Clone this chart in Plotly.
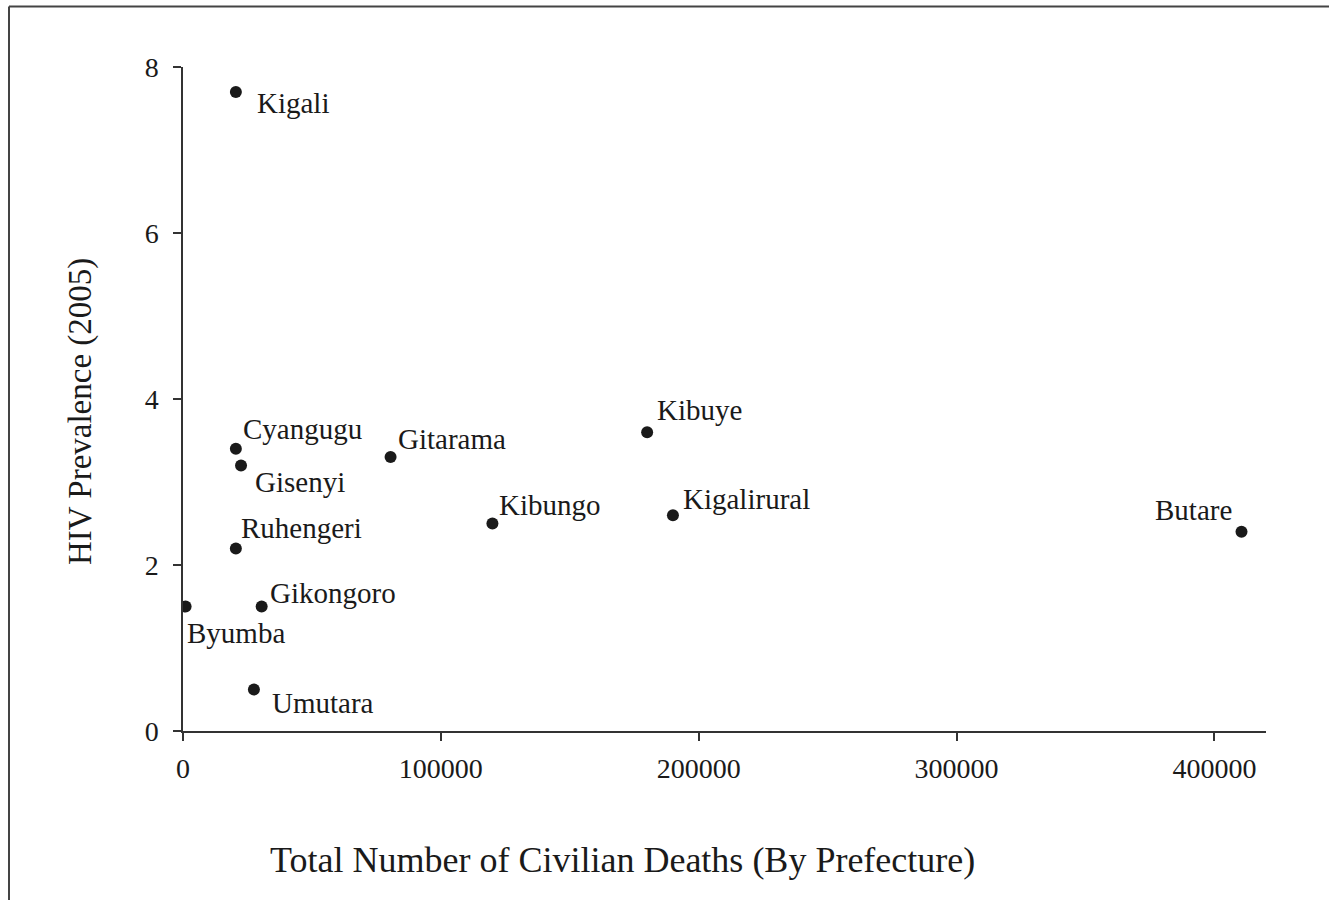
import plotly.graph_objects as go

# Data
prefectures = ["Kigali", "Cyangugu", "Gisenyi", "Ruhengeri", "Byumba", "Gikongoro",
               "Umutara", "Gitarama", "Kibungo", "Kibuye", "Kigalirural", "Butare"]
civilian_deaths = [20500, 20500, 22500, 20500, 1000, 30500,
                   27500, 80500, 120000, 180000, 190000, 410500]
hiv_prevalence = [7.7, 3.4, 3.2, 2.2, 1.5, 1.5, 0.5, 3.3, 2.5, 3.6, 2.6, 2.4]
x_ticks = [0, 100000, 200000, 300000, 400000]
y_ticks = [0, 2, 4, 6, 8]
x_title = "Total Number of Civilian Deaths (By Prefecture)"
y_title = "HIV Prevalence (2005)"

# Label placement (style only): xanchor, xshift, yshift in pixels
label_style = {
    "Kigali": ("left", 19, -11),
    "Cyangugu": ("left", 5, 20),
    "Gisenyi": ("left", 12, -17),
    "Ruhengeri": ("left", 3, 20),
    "Byumba": ("left", -1, -26),
    "Gikongoro": ("left", 6, 14),
    "Umutara": ("left", 16, -13),
    "Gitarama": ("left", 5, 18),
    "Kibungo": ("left", 5, 19),
    "Kibuye": ("left", 8, 22),
    "Kigalirural": ("left", 8, 16),
    "Butare": ("right", -8, 22),
}

FONT = "Liberation Serif"
INK = "#1a1a1a"
fig = go.Figure()
fig.add_trace(go.Scatter(
    x=civilian_deaths, y=hiv_prevalence, mode="markers",
    marker=dict(size=12, color=INK),
    hoverinfo="text", text=prefectures, showlegend=False,
))

for name, xv, yv in zip(prefectures, civilian_deaths, hiv_prevalence):
    anchor, xs, ys = label_style[name]
    fig.add_annotation(x=xv, y=yv, text=name, showarrow=False,
                       xanchor=anchor, yanchor="middle", xshift=xs, yshift=ys,
                       font=dict(family=FONT, size=29, color=INK))

# target plot area in page pixels
L, R, T, B = 183, 1266, 67, 731

def px(xp):
    return (xp - L) / (R - L)

def py(yp):
    return (B - yp) / (B - T)

# axis titles placed as annotations (off-centre as in the source)
fig.add_annotation(xref="paper", yref="paper", x=px(622), y=py(860), text=x_title,
                   showarrow=False, xanchor="center", yanchor="middle",
                   font=dict(family=FONT, size=36, color=INK))
fig.add_annotation(xref="paper", yref="paper", x=px(80), y=py(412), text=y_title,
                   showarrow=False, xanchor="center", yanchor="middle", textangle=-90,
                   font=dict(family=FONT, size=33, color=INK))

# outer frame (cropped box)
fig.add_shape(type="line", xref="paper", yref="paper",
              x0=px(9), x1=px(1345), y0=py(6.5), y1=py(6.5),
              line=dict(color="#444444", width=2))
fig.add_shape(type="line", xref="paper", yref="paper",
              x0=px(9), x1=px(9), y0=py(6.5), y1=py(915),
              line=dict(color="#444444", width=2))

axis_common = dict(showgrid=False, zeroline=False, showline=True, linecolor="#333333",
                   linewidth=1.5, ticks="outside", ticklen=8, tickwidth=1.5,
                   tickcolor="#333333",
                   tickfont=dict(family=FONT, size=28, color=INK))

fig.update_layout(
    width=1329, height=900,
    margin=dict(l=L, r=1329 - R, t=T, b=900 - B),
    paper_bgcolor="white", plot_bgcolor="white",
    xaxis=dict(range=[0, 420000], tickvals=x_ticks, ticktext=[str(v) for v in x_ticks],
               ticklabelstandoff=4, **axis_common),
    yaxis=dict(range=[0, 8], tickvals=y_ticks, ticktext=[str(v) for v in y_ticks],
               ticklabelstandoff=9, **axis_common),
)

fig.write_html("out.html", config={"displayModeBar": False},
               post_script="document.body.style.margin='0';document.body.style.overflow='hidden';")
